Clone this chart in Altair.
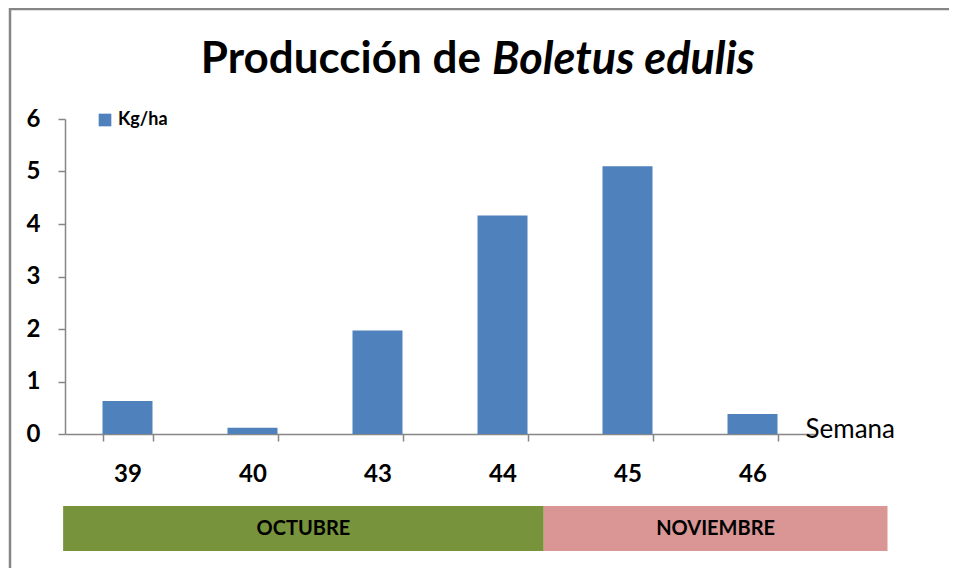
import altair as alt
import pandas as pd

# ---- data ----
weeks = ["39", "40", "43", "44", "45", "46"]
kg_ha = [0.63, 0.12, 1.97, 4.16, 5.10, 0.38]
series_name = "Kg/ha"

months = ["OCTUBRE", "NOVIEMBRE"]
month_start = [-0.015, 3.83]      # in week-slot units along the x axis
month_end = [3.83, 6.58]
month_colors = ["#77933C", "#D99694"]

title_main = "Producción de"
title_species = "Boletus edulis"
x_title = "Semana"

FONT = "Lato"
AXIS_GRAY = "#868686"
BAR_BLUE = "#4F81BD"
W, H = 750, 315

bars_df = pd.DataFrame({"week": weeks, "value": kg_ha, "serie": [series_name] * len(weeks)})
months_df = pd.DataFrame({
    "month": months,
    "start": month_start,
    "end": month_end,
    "mid": [(s + e) / 2 for s, e in zip(month_start, month_end)],
})
one = pd.DataFrame({"k": [0]})

bars = alt.Chart(bars_df).mark_bar().encode(
    x=alt.X(
        "week:N", sort=weeks,
        scale=alt.Scale(paddingInner=0.6, paddingOuter=0.3),
        axis=alt.Axis(
            title=x_title, labelAngle=0, labelFont=FONT, labelFontSize=24, labelFontWeight="bold",
            labelColor="black", labelPadding=21, tickBand="extent", tickSize=7,
            tickColor=AXIS_GRAY, domainColor=AXIS_GRAY, domainWidth=1.5, tickWidth=1.5,
            titleFont=FONT, titleFontSize=26, titleFontWeight="normal", titleColor="black",
            titleX=740, titleY=-5, titleAlign="left", titleBaseline="middle", titleAnchor="start",
        ),
    ),
    y=alt.Y(
        "value:Q",
        scale=alt.Scale(domain=[0, 6], nice=False),
        axis=alt.Axis(
            title=None, values=[0, 1, 2, 3, 4, 5, 6], grid=False, labelFont=FONT, labelFontSize=24,
            labelFontWeight="bold", labelColor="black", labelPadding=18, tickSize=7,
            tickColor=AXIS_GRAY, domainColor=AXIS_GRAY, domainWidth=1.5, tickWidth=1.5,
        ),
    ),
    color=alt.Color(
        "serie:N",
        scale=alt.Scale(domain=[series_name], range=[BAR_BLUE]),
        legend=alt.Legend(
            title=None, orient="none", legendX=31, legendY=-8, symbolType="square",
            symbolSize=160, symbolStrokeWidth=0, labelFont=FONT, labelFontSize=18,
            labelFontWeight="bold", labelColor="black", labelOffset=4,
        ),
    ),
)

month_rects = alt.Chart(months_df).mark_rect().encode(
    x=alt.X("start:Q", scale=alt.Scale(domain=[0, 6], nice=False, zero=False), axis=None),
    x2="end:Q",
    y=alt.value(387),
    y2=alt.value(432),
    fill=alt.Fill("month:N", scale=alt.Scale(domain=months, range=month_colors), legend=None),
)

month_text = alt.Chart(months_df).mark_text(
    font=FONT, fontSize=20, fontWeight="bold", color="black", baseline="middle"
).encode(
    x=alt.X("mid:Q", scale=alt.Scale(domain=[0, 6], nice=False, zero=False), axis=None),
    y=alt.value(410),
    text="month:N",
)

title_a = alt.Chart(pd.DataFrame({"t": [title_main]})).mark_text(
    font=FONT, fontSize=44, fontWeight="bold", color="black", align="right", baseline="middle"
).encode(x=alt.value(416), y=alt.value(-59), text="t:N")

title_b = alt.Chart(pd.DataFrame({"t": [title_species]})).mark_text(
    font=FONT, fontSize=45, fontWeight="bold", fontStyle="italic", color="black",
    align="left", baseline="middle"
).encode(x=alt.value(427), y=alt.value(-59), text="t:N")

cover_right = alt.Chart(one).mark_rule(color="white", strokeWidth=6).encode(
    x=alt.value(881), y=alt.value(-111), y2=alt.value(500)
)
frame_top = alt.Chart(one).mark_rule(color=AXIS_GRAY, strokeWidth=2.5).encode(
    x=alt.value(-56), x2=alt.value(950), y=alt.value(-110)
)
frame_left = alt.Chart(one).mark_rule(color=AXIS_GRAY, strokeWidth=2.5).encode(
    x=alt.value(-55), y=alt.value(-111), y2=alt.value(500)
)

chart = alt.layer(
    cover_right, frame_top, frame_left, bars, month_rects, month_text, title_a, title_b
).resolve_scale(
    x="independent"
).properties(
    width=W, height=H,
    autosize=alt.AutoSizeParams(type="none"),
    padding={"left": 57, "top": 111, "right": 134, "bottom": 134},
).configure(background="white", view=alt.ViewConfig(strokeWidth=0, stroke="transparent"))

chart.save("out.html", embed_options={"renderer": "svg", "actions": False})
